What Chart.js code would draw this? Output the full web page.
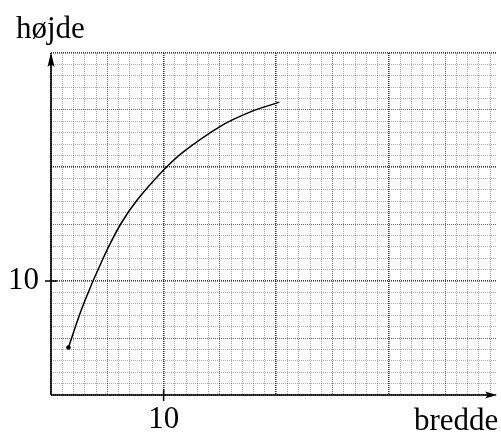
<!DOCTYPE html>
<html><head><meta charset="utf-8">
<script src="https://cdn.jsdelivr.net/npm/chart.js@4/dist/chart.umd.min.js"></script>
<style>html,body{margin:0;padding:0;background:#fff;overflow:hidden}</style>
</head><body>
<canvas id="c" width="501" height="432"></canvas>
<script>
// ---- data ----
const xAxisTitle = 'bredde';
const yAxisTitle = 'højde';
const breddeValues = [1.55, 2.9, 4.63, 6.19, 7.65, 10.02, 11.78, 15.0, 17.5, 20.27];
const hoejdeValues = [4.17, 8.0, 12.0, 15.0, 17.1, 19.75, 21.35, 23.55, 24.75, 25.69];
const xTickLabels = [10];
const yTickLabels = [10];
const xRange = [0, 39.6];
const yRange = [0, 30];

const FONT = 'Liberation Serif, Times New Roman, serif';

function gridColor(ctx){
  const v = ctx.tick ? ctx.tick.value : 0;
  if (v % 10 === 0) return 'rgba(0,0,0,0.75)';
  if (v % 5 === 0) return 'rgba(0,0,0,0.55)';
  return 'rgba(0,0,0,0.32)';
}
function gridWidth(ctx){
  const v = ctx.tick ? ctx.tick.value : 0;
  if (v % 10 === 0) return 1.6;
  return 1;
}

const axesPlugin = {
  id: 'axesPlugin',
  afterDraw(chart){
    const c = chart.ctx;
    const xs = chart.scales.x, ys = chart.scales.y;
    const x0 = xs.getPixelForValue(0), y0 = ys.getPixelForValue(0);
    const top = chart.chartArea.top, right = chart.chartArea.right;
    c.save();
    c.strokeStyle = '#000'; c.fillStyle = '#000'; c.lineWidth = 1.6;
    c.beginPath();
    c.moveTo(x0, y0); c.lineTo(x0, top + 4);
    c.moveTo(x0, y0); c.lineTo(right - 4, y0);
    c.stroke();
    c.beginPath();
    c.moveTo(x0, top - 1); c.lineTo(x0 - 3.5, top + 14); c.quadraticCurveTo(x0, top + 10, x0 + 3.5, top + 14); c.closePath(); c.fill();
    c.beginPath();
    c.moveTo(right, y0); c.lineTo(right - 12, y0 - 3.5); c.quadraticCurveTo(right - 8, y0, right - 12, y0 + 3.5); c.closePath(); c.fill();
    c.lineWidth = 1.5;
    xTickLabels.forEach(v => { const p = xs.getPixelForValue(v); c.beginPath(); c.moveTo(p, y0 - 6); c.lineTo(p, y0 + 6); c.stroke(); });
    yTickLabels.forEach(v => { const p = ys.getPixelForValue(v); c.beginPath(); c.moveTo(x0 - 6, p); c.lineTo(x0 + 6, p); c.stroke(); });
    c.font = '31px ' + FONT;
    c.textBaseline = 'alphabetic';
    c.textAlign = 'left';
    c.fillText(yAxisTitle, 16, 38);
    c.fillText(xAxisTitle, 414, 430);
    c.restore();
  }
};

new Chart(document.getElementById('c'), {
  type: 'scatter',
  data: {
    datasets: [{
      data: breddeValues.map((x, i) => ({x, y: hoejdeValues[i]})),
      showLine: true,
      borderColor: '#000',
      borderWidth: 1.5,
      tension: 0.4,
      pointRadius: ctx => ctx.dataIndex === 0 ? 2.3 : 0,
      pointBackgroundColor: '#000',
      pointBorderColor: '#000',
      pointBorderWidth: 0
    }]
  },
  options: {
    responsive: false,
    animation: false,
    devicePixelRatio: 1,
    layout: { padding: { top: 53, right: 0, left: 0, bottom: 0 } },
    plugins: { legend: { display: false }, tooltip: { enabled: false } },
    scales: {
      x: {
        type: 'linear', min: xRange[0], max: xRange[1],
        afterFit(s){ s.height = 37; },
        ticks: {
          stepSize: 1, autoSkip: false, includeBounds: false, maxRotation: 0, minRotation: 0,
          padding: 9, color: '#000',
          font: { family: FONT, size: 31, lineHeight: 1 },
          callback: v => xTickLabels.includes(v) ? String(v) : ''
        },
        grid: { color: gridColor, lineWidth: gridWidth, drawTicks: false },
        border: { display: false, dash: [1, 1] }
      },
      y: {
        type: 'linear', min: yRange[0], max: yRange[1],
        afterFit(s){ s.width = 51; },
        ticks: {
          stepSize: 1, autoSkip: false, includeBounds: false,
          padding: 12, color: '#000',
          font: { family: FONT, size: 31, lineHeight: 1 },
          callback: v => yTickLabels.includes(v) ? String(v) : ''
        },
        grid: { color: gridColor, lineWidth: gridWidth, drawTicks: false },
        border: { display: false, dash: [1, 1] }
      }
    }
  },
  plugins: [axesPlugin]
});
</script>
</body></html>
